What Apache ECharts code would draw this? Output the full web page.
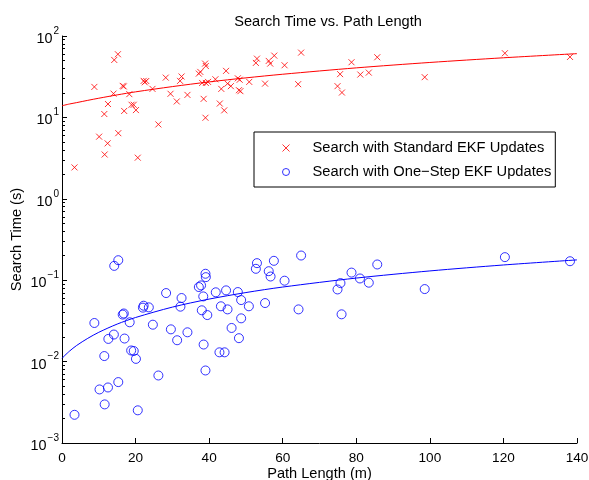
<!DOCTYPE html>
<html>
<head>
<meta charset="utf-8">
<script src="https://cdn.jsdelivr.net/npm/echarts@6/dist/echarts.min.js"></script>
<style>
  html, body { margin: 0; padding: 0; background: #fff; }
  #chart { width: 589px; height: 480px; }
</style>
</head>
<body>
<div id="chart"></div>
<script>
// Search with standard EKF updates (red x)
const stdX = [3.4, 8.8, 10.1, 11.5, 11.6, 12.4, 12.5, 14.0, 14.2, 15.2, 15.3, 16.5, 16.8, 16.9, 18.3, 18.9, 19.5, 20.1, 20.6,
  22.2, 22.5, 22.9, 24.6, 26.2, 28.2, 29.5, 31.2, 32.1, 32.5, 34.1, 37.2, 37.6, 38.1, 38.5, 38.9, 39.0, 39.1, 39.1, 39.7,
  41.7, 42.9, 43.3, 44.1, 44.6, 45.0, 45.9, 47.8, 48.1, 48.3, 48.5, 50.9, 52.7, 53.0, 55.2, 56.2, 56.6, 57.7, 60.5, 64.2, 65.0,
  74.9, 75.6, 76.1, 78.7, 81.1, 83.4, 85.7, 98.6, 120.4, 138.1];
const stdTime = [2.43, 23.7, 5.8, 11, 3.5, 4.8, 14.6, 19.6, 50.8, 59.7, 6.4, 24.4, 24, 12, 19.3, 14.3, 14.3, 12.3, 3.2,
  28.1, 27, 28, 22.4, 8.2, 30.8, 19.5, 15.7, 28.1, 31.8, 18.9, 34.5, 36.2, 26.5, 16.9, 45.8, 9.9, 26.5, 42.8, 27.3,
  29.4, 14.8, 22.4, 12.2, 37.3, 26, 24.2, 30.2, 21.6, 29, 21, 27.3, 46.7, 52.7, 26, 49.4, 45.8, 57.4, 43.7, 25.6, 62.5,
  24.2, 34, 20.2, 47.6, 33.6, 35.5, 54.8, 31.2, 61.4, 55.3];

// Search with one-step EKF updates (blue o)
const oneX = [3.4, 8.8, 10.2, 11.5, 11.6, 12.5, 12.6, 14.1, 14.2, 15.3, 15.3, 16.5, 16.8, 17.0, 18.4, 18.8, 19.5, 20.1, 20.6,
  22.0, 22.2, 23.6, 24.7, 26.2, 28.3, 29.6, 31.3, 32.2, 32.5, 34.1, 37.2, 37.8, 38.0, 38.4, 38.5, 39.0, 39.0, 39.1, 39.5,
  41.8, 42.8, 43.2, 44.2, 44.6, 45.0, 46.1, 47.8, 48.1, 48.7, 48.7, 50.8, 52.7, 53.0, 55.2, 56.2, 56.7, 57.6, 60.5, 64.3, 65.0,
  74.9, 75.7, 76.0, 78.7, 81.0, 83.4, 85.7, 98.6, 120.4, 138.1];
const oneTime = [0.00222, 0.0298, 0.00455, 0.0117, 0.00298, 0.00481, 0.019, 0.0215, 0.150, 0.176, 0.0056, 0.0378, 0.039, 0.0192, 0.0304, 0.0137, 0.0135, 0.0108, 0.00252,
  0.046, 0.0486, 0.0464, 0.0284, 0.00675, 0.0695, 0.0249, 0.0183, 0.0473, 0.0604, 0.0229, 0.0824, 0.0863, 0.0427, 0.0632, 0.0162, 0.120, 0.00778, 0.109, 0.0373,
  0.071, 0.013, 0.0478, 0.013, 0.075, 0.0438, 0.0259, 0.0715, 0.0194, 0.057, 0.034, 0.0478, 0.138, 0.162, 0.0524, 0.129, 0.111, 0.173, 0.0986, 0.0438, 0.201,
  0.077, 0.0922, 0.0381, 0.124, 0.105, 0.0932, 0.156, 0.0778, 0.192, 0.171];

// fitted curves
const fitX = [0, 2, 4, 7, 10, 15, 20, 30, 40, 50, 60, 80, 100, 120, 140];
const stdFit = [13.9, 14.6, 15.2, 16.2, 17.2, 18.9, 20.6, 23.9, 27.3, 30.6, 33.9, 40.6, 47.3, 54.0, 60.7];
const oneFit = [0.0110, 0.0134, 0.0158, 0.0193, 0.0229, 0.0289, 0.0348, 0.0467, 0.0586, 0.0705, 0.0824, 0.1062, 0.130, 0.1538, 0.1776];

// log-axis minor tick values (2..9 per decade)
const decades = [0.001, 0.01, 0.1, 1, 10];
const minorSteps = [2, 3, 4, 5, 6, 7, 8, 9];

const stdName = 'Search with Standard EKF Updates';
const oneName = 'Search with One\u2212Step EKF Updates';

const zip = (xs, ys) => xs.map((x, i) => [x, ys[i]]);
const font = '"Liberation Sans", Arial, Helvetica, sans-serif';
const minorValues = [];
decades.forEach(d => minorSteps.forEach(m => minorValues.push(+(d * m).toPrecision(3))));

const chart = echarts.init(document.getElementById('chart'));

const yBase = {
  type: 'log', logBase: 10, min: 0.001, max: 100,
  position: 'left',
  splitLine: { show: false }
};

chart.setOption({
  animation: false,
  backgroundColor: '#fff',
  textStyle: { fontFamily: font },
  title: {
    text: 'Search Time vs. Path Length',
    left: 323, textAlign: 'center', top: 9,
    textStyle: { fontFamily: font, fontSize: 14.6, fontWeight: 'normal', color: '#000' }
  },
  grid: { left: 62, right: 12, top: 36, bottom: 37, outerBoundsMode: 'none', containLabel: false },
  legend: {
    orient: 'vertical',
    left: 254, top: 132,
    padding: [8, 4, 7, 26],
    itemWidth: 43, itemHeight: 7, itemGap: 8,
    borderColor: '#000', borderWidth: 1,
    backgroundColor: '#fff',
    itemStyle: { borderWidth: 1 },
    data: [stdName, oneName],
    textStyle: { fontFamily: font, fontSize: 14.7, color: '#000', lineHeight: 16 }
  },
  xAxis: {
    type: 'value', min: 0, max: 140, interval: 20,
    name: 'Path Length (m)', nameLocation: 'middle', nameGap: 23,
    nameMoveOverlap: false,
    nameTextStyle: { fontFamily: font, fontSize: 14.6, color: '#000' },
    axisLine: { lineStyle: { color: '#000' } },
    axisTick: { inside: true, length: 5, lineStyle: { color: '#000' } },
    axisLabel: { margin: 8, fontFamily: font, fontSize: 13.6, color: '#000' },
    splitLine: { show: false }
  },
  yAxis: [
    Object.assign({}, yBase, {
      name: 'Search Time (s)', nameLocation: 'middle', nameGap: 38,
      nameMoveOverlap: false,
      nameTextStyle: { fontFamily: font, fontSize: 14.6, color: '#000' },
      axisLine: { show: true, lineStyle: { color: '#000' } },
      axisTick: { inside: true, length: 5, lineStyle: { color: '#000' } },
      axisLabel: {
        margin: 3,
        formatter: v => {
          const e = Math.round(Math.log10(v));
          return '{b|10}{s|' + (e < 0 ? '\u2212' + (-e) : e) + '}';
        },
        rich: {
          b: { fontFamily: font, fontSize: 14.4, color: '#000', lineHeight: 20, verticalAlign: 'bottom' },
          s: { fontFamily: font, fontSize: 10, color: '#000', lineHeight: 20, verticalAlign: 'top', padding: [0, 0, 0, 1] }
        }
      }
    }),
    Object.assign({}, yBase, {
      axisLine: { show: false },
      axisLabel: { show: false },
      axisTick: { show: true, inside: true, length: 3, customValues: minorValues, lineStyle: { color: '#000' } }
    })
  ],
  series: [
    {
      name: stdName, type: 'scatter',
      symbol: 'path://M0,0L10,10M10,0L0,10', symbolSize: 6,
      itemStyle: { color: 'none', borderColor: '#ff0000', borderWidth: 1 },
      data: zip(stdX, stdTime), z: 3
    },
    {
      name: oneName, type: 'scatter',
      symbol: 'circle', symbolSize: 9,
      itemStyle: { color: 'none', borderColor: '#0000ff', borderWidth: 1 },
      data: zip(oneX, oneTime), z: 3
    },
    {
      name: 'stdFit', type: 'line', showSymbol: false, smooth: 0.3, silent: true,
      lineStyle: { color: '#ff0000', width: 1 },
      data: zip(fitX, stdFit), z: 2
    },
    {
      name: 'oneFit', type: 'line', showSymbol: false, smooth: 0.3, silent: true,
      lineStyle: { color: '#0000ff', width: 1 },
      data: zip(fitX, oneFit), z: 2
    }
  ]
});
</script>
</body>
</html>
